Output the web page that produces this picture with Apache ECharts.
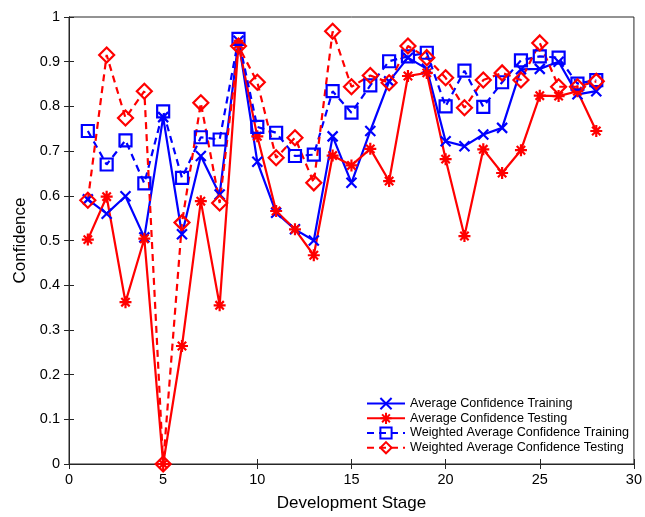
<!DOCTYPE html>
<html><head><meta charset="utf-8">
<script src="https://cdn.jsdelivr.net/npm/echarts@6/dist/echarts.min.js"></script>
<style>html,body{margin:0;padding:0;background:#fff}#c{width:645px;height:517px}</style>
</head><body><div id="c"></div>
<script>
const stages = [1,2,3,4,5,6,7,8,9,10,11,12,13,14,15,16,17,18,19,20,21,22,23,24,25,26,27,28];
const avgTrain = [0.592,0.560,0.599,0.507,0.776,0.514,0.689,0.603,0.947,0.676,0.562,0.525,0.500,0.733,0.629,0.745,0.856,0.909,0.884,0.722,0.711,0.737,0.752,0.883,0.884,0.900,0.827,0.834];
const avgTest = [0.502,0.598,0.362,0.504,0.0,0.264,0.588,0.355,0.939,0.733,0.566,0.525,0.467,0.690,0.668,0.705,0.633,0.868,0.875,0.682,0.510,0.704,0.651,0.702,0.824,0.823,0.834,0.745];
const wAvgTrain = [0.745,0.670,0.724,0.628,0.789,0.640,0.731,0.726,0.951,0.754,0.741,0.689,0.692,0.834,0.786,0.847,0.901,0.912,0.920,0.800,0.880,0.799,0.854,0.903,0.912,0.909,0.851,0.859];
const wAvgTest = [0.590,0.915,0.774,0.834,0.0,0.540,0.808,0.584,0.935,0.854,0.685,0.730,0.629,0.968,0.844,0.869,0.853,0.935,0.909,0.864,0.797,0.859,0.875,0.859,0.942,0.844,0.844,0.856];
const seriesNames = ['Average Confidence Training','Average Confidence Testing','Weighted Average Confidence Training','Weighted Average Confidence Testing'];

const BLUE = '#0000ff', RED = '#ff0000', AX = '#262626';
const FONT = 'Liberation Sans';
const CROSS = 'path://M0,0L10,10M10,0L0,10';
const STAR = 'path://M5,0L5,10M0,5L10,5M1.5,1.5L8.5,8.5M8.5,1.5L1.5,8.5';
const SQUARE = 'path://M0,0L10,0L10,10L0,10Z';
const DIAMOND = 'path://M5,0L10,5L5,10L0,5Z';

function pts(vals){ return stages.map((s,i)=>[s, vals[i]]); }
function mk(name, vals, color, symbol, size, dashed){
  return {
    name, type:'line', data: pts(vals), clip:false,
    symbol, symbolSize:size, showAllSymbol:true,
    lineStyle:{color, width:2.2, type: dashed ? [7,5] : 'solid'},
    itemStyle:{color:'rgba(0,0,0,0)', borderColor:color, borderWidth:2.2},
    color: color,
    emphasis:{disabled:true}, animation:false
  };
}
const axCommon = {
  min:0, axisLine:{show:true, lineStyle:{color:AX, width:1}},
  axisTick:{show:true, inside:true, length:5, lineStyle:{color:AX}},
  splitLine:{show:false}
};
const chart = echarts.init(document.getElementById('c'), null, {renderer:'canvas'});
chart.setOption({
  animation:false,
  backgroundColor:'#fff',
  grid:{left:69, right:9, top:17, bottom:52.5, show:true, borderColor:AX, borderWidth:1, backgroundColor:'transparent'},
  xAxis:[
    Object.assign({}, axCommon, {type:'value', max:30, interval:5, position:'bottom',
      axisLabel:{color:'#000', fontFamily:FONT, fontSize:14.5, margin:8},
      name:'Development Stage', nameLocation:'middle', nameGap:31,
      nameTextStyle:{color:'#000', fontFamily:FONT, fontSize:17}}),
    Object.assign({}, axCommon, {type:'value', max:30, interval:5, position:'top', axisLabel:{show:false}})
  ],
  yAxis:[
    Object.assign({}, axCommon, {type:'value', max:1, interval:0.1, position:'left',
      axisLabel:{color:'#000', fontFamily:FONT, fontSize:14.5, margin:9},
      name:'Confidence', nameLocation:'middle', nameGap:40, nameRotate:90,
      nameTextStyle:{color:'#000', fontFamily:FONT, fontSize:17}}),
    Object.assign({}, axCommon, {type:'value', max:1, interval:0.1, position:'right', axisLabel:{show:false}})
  ],
  legend:{
    orient:'vertical', left:361, top:392, itemWidth:38, itemHeight:14, itemGap:1.5,
    textStyle:{color:'#000', fontFamily:FONT, fontSize:12.6},
    data: seriesNames
  },
  series:[
    mk(seriesNames[0], avgTrain, BLUE, CROSS, 10, false),
    mk(seriesNames[1], avgTest, RED, STAR, 12, false),
    mk(seriesNames[2], wAvgTrain, BLUE, SQUARE, 12, true),
    mk(seriesNames[3], wAvgTest, RED, DIAMOND, 15, true)
  ]
});
</script></body></html>
